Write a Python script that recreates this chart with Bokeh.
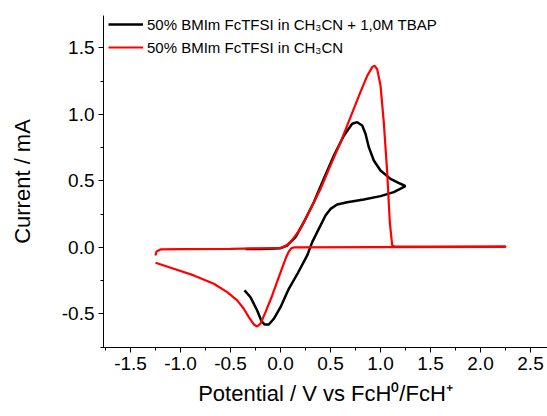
from bokeh.plotting import figure
from bokeh.models import FixedTicker, Range1d, Legend, LegendItem
from bokeh.embed import file_html
from bokeh.resources import INLINE

# 50% BMIm FcTFSI in CH3CN + 1,0M TBAP (black)
black_v = [-0.35, -0.2, 0.0, 0.067, 0.15, 0.233, 0.333, 0.433, 0.533, 0.633, 0.717, 0.767,
           0.817, 0.85, 0.883, 0.933, 1.0, 1.1, 1.2, 1.25, 1.133, 1.0, 0.833, 0.667, 0.567,
           0.5, 0.45, 0.383, 0.317, 0.267, 0.175, 0.083, 0.0, -0.067, -0.117, -0.16, -0.193,
           -0.233, -0.3, -0.36]
black_i = [-0.012, -0.011, -0.005, 0.015, 0.078, 0.19, 0.34, 0.516, 0.69, 0.84, 0.93, 0.942,
           0.917, 0.855, 0.754, 0.654, 0.579, 0.516, 0.479, 0.462, 0.416, 0.386, 0.361, 0.34,
           0.323, 0.29, 0.24, 0.14, 0.04, -0.06, -0.19, -0.311, -0.449, -0.536, -0.579, -0.579,
           -0.549, -0.474, -0.374, -0.323]

# 50% BMIm FcTFSI in CH3CN (red)
red_v = [-1.25, -1.24, -1.2, -1.0, -0.5, 0.0, 0.05, 0.1, 0.2, 0.3, 0.4, 0.5, 0.6, 0.7, 0.8,
         0.867, 0.917, 0.94, 0.967, 1.0, 1.033, 1.067, 1.093, 1.117, 1.15, 1.5, 2.25, 2.25,
         1.0, 0.133, 0.11, 0.083, 0.05, -0.017, -0.083, -0.15, -0.2, -0.233, -0.267, -0.317,
         -0.367, -0.433, -0.533, -0.667, -0.867, -1.067, -1.25]
red_i = [-0.06, -0.03, -0.015, -0.012, -0.01, -0.004, 0.01, 0.04, 0.14, 0.29, 0.44, 0.617,
         0.79, 0.98, 1.17, 1.29, 1.356, 1.367, 1.34, 1.218, 0.94, 0.566, 0.19, 0.015, 0.006,
         0.007, 0.008, 0.004, 0.002, 0.0, -0.005, -0.03, -0.085, -0.223, -0.361, -0.486,
         -0.573, -0.594, -0.579, -0.524, -0.461, -0.398, -0.336, -0.273, -0.21, -0.16, -0.115]

series_labels = ["50% BMIm FcTFSI in CH\u2083CN + 1,0M TBAP", "50% BMIm FcTFSI in CH\u2083CN"]

x_ticks = [-1.5, -1.0, -0.5, 0.0, 0.5, 1.0, 1.5, 2.0, 2.5]
x_tick_labels = ["-1.5", "-1.0", "-0.5", "0.0", "0.5", "1.0", "1.5", "2.0", "2.5"]
x_minor = [-1.75, -1.25, -0.75, -0.25, 0.25, 0.75, 1.25, 1.75, 2.25]
y_ticks = [-0.5, 0.0, 0.5, 1.0, 1.5]
y_tick_labels = ["-0.5", "0.0", "0.5", "1.0", "1.5"]
y_minor = [-0.75, -0.25, 0.25, 0.75, 1.25, 1.75]

x_title = "Potential / V vs FcH\u2070/FcH\u207a"
y_title = "Current / mA"

FONT = "Liberation Sans"

p = figure(width=547, height=416, output_backend="svg", toolbar_location=None,
           x_range=Range1d(-1.77, 2.67), y_range=Range1d(-0.752, 1.744),
           min_border_left=103, min_border_right=0, min_border_top=15, min_border_bottom=69)
p.outline_line_color = None
p.xgrid.visible = False
p.ygrid.visible = False
p.background_fill_color = "white"
p.border_fill_color = "white"

rb = p.line(black_v, black_i, line_color="black", line_width=2.5)
rr = p.line(red_v, red_i, line_color="#ff0000", line_width=2.2)

p.xaxis.ticker = FixedTicker(ticks=x_ticks, minor_ticks=x_minor)
p.yaxis.ticker = FixedTicker(ticks=y_ticks, minor_ticks=y_minor)
p.xaxis.major_label_overrides = dict(zip(x_ticks, x_tick_labels))
p.yaxis.major_label_overrides = dict(zip(y_ticks, y_tick_labels))
p.xaxis.axis_label = x_title
p.yaxis.axis_label = y_title

for ax in (p.xaxis[0], p.yaxis[0]):
    ax.axis_line_color = "black"
    ax.axis_line_width = 1
    ax.major_tick_line_color = "black"
    ax.minor_tick_line_color = "black"
    ax.major_tick_out = 5
    ax.major_tick_in = 0
    ax.minor_tick_out = 3
    ax.minor_tick_in = 0
    ax.major_label_text_font = FONT
    ax.major_label_text_font_size = "19px"
    ax.major_label_text_color = "black"
    ax.major_label_standoff = 4
    ax.axis_label_text_font = FONT
    ax.axis_label_text_font_size = "22px"
    ax.axis_label_text_font_style = "normal"
    ax.axis_label_text_color = "black"

p.xaxis.axis_label_standoff = 8
p.yaxis.axis_label_standoff = 24

legend = Legend(items=[LegendItem(label=series_labels[0], renderers=[rb]),
                       LegendItem(label=series_labels[1], renderers=[rr])],
                location=(5, 290))
legend.border_line_color = None
legend.background_fill_alpha = 0
legend.label_text_font = FONT
legend.label_text_font_size = "15px"
legend.label_text_color = "black"
legend.glyph_width = 35
legend.glyph_height = 20
legend.label_height = 20
legend.spacing = 3
legend.padding = 0
legend.margin = 0
legend.label_standoff = 4
p.add_layout(legend)

open("out.html", "w").write(file_html(p, INLINE))
